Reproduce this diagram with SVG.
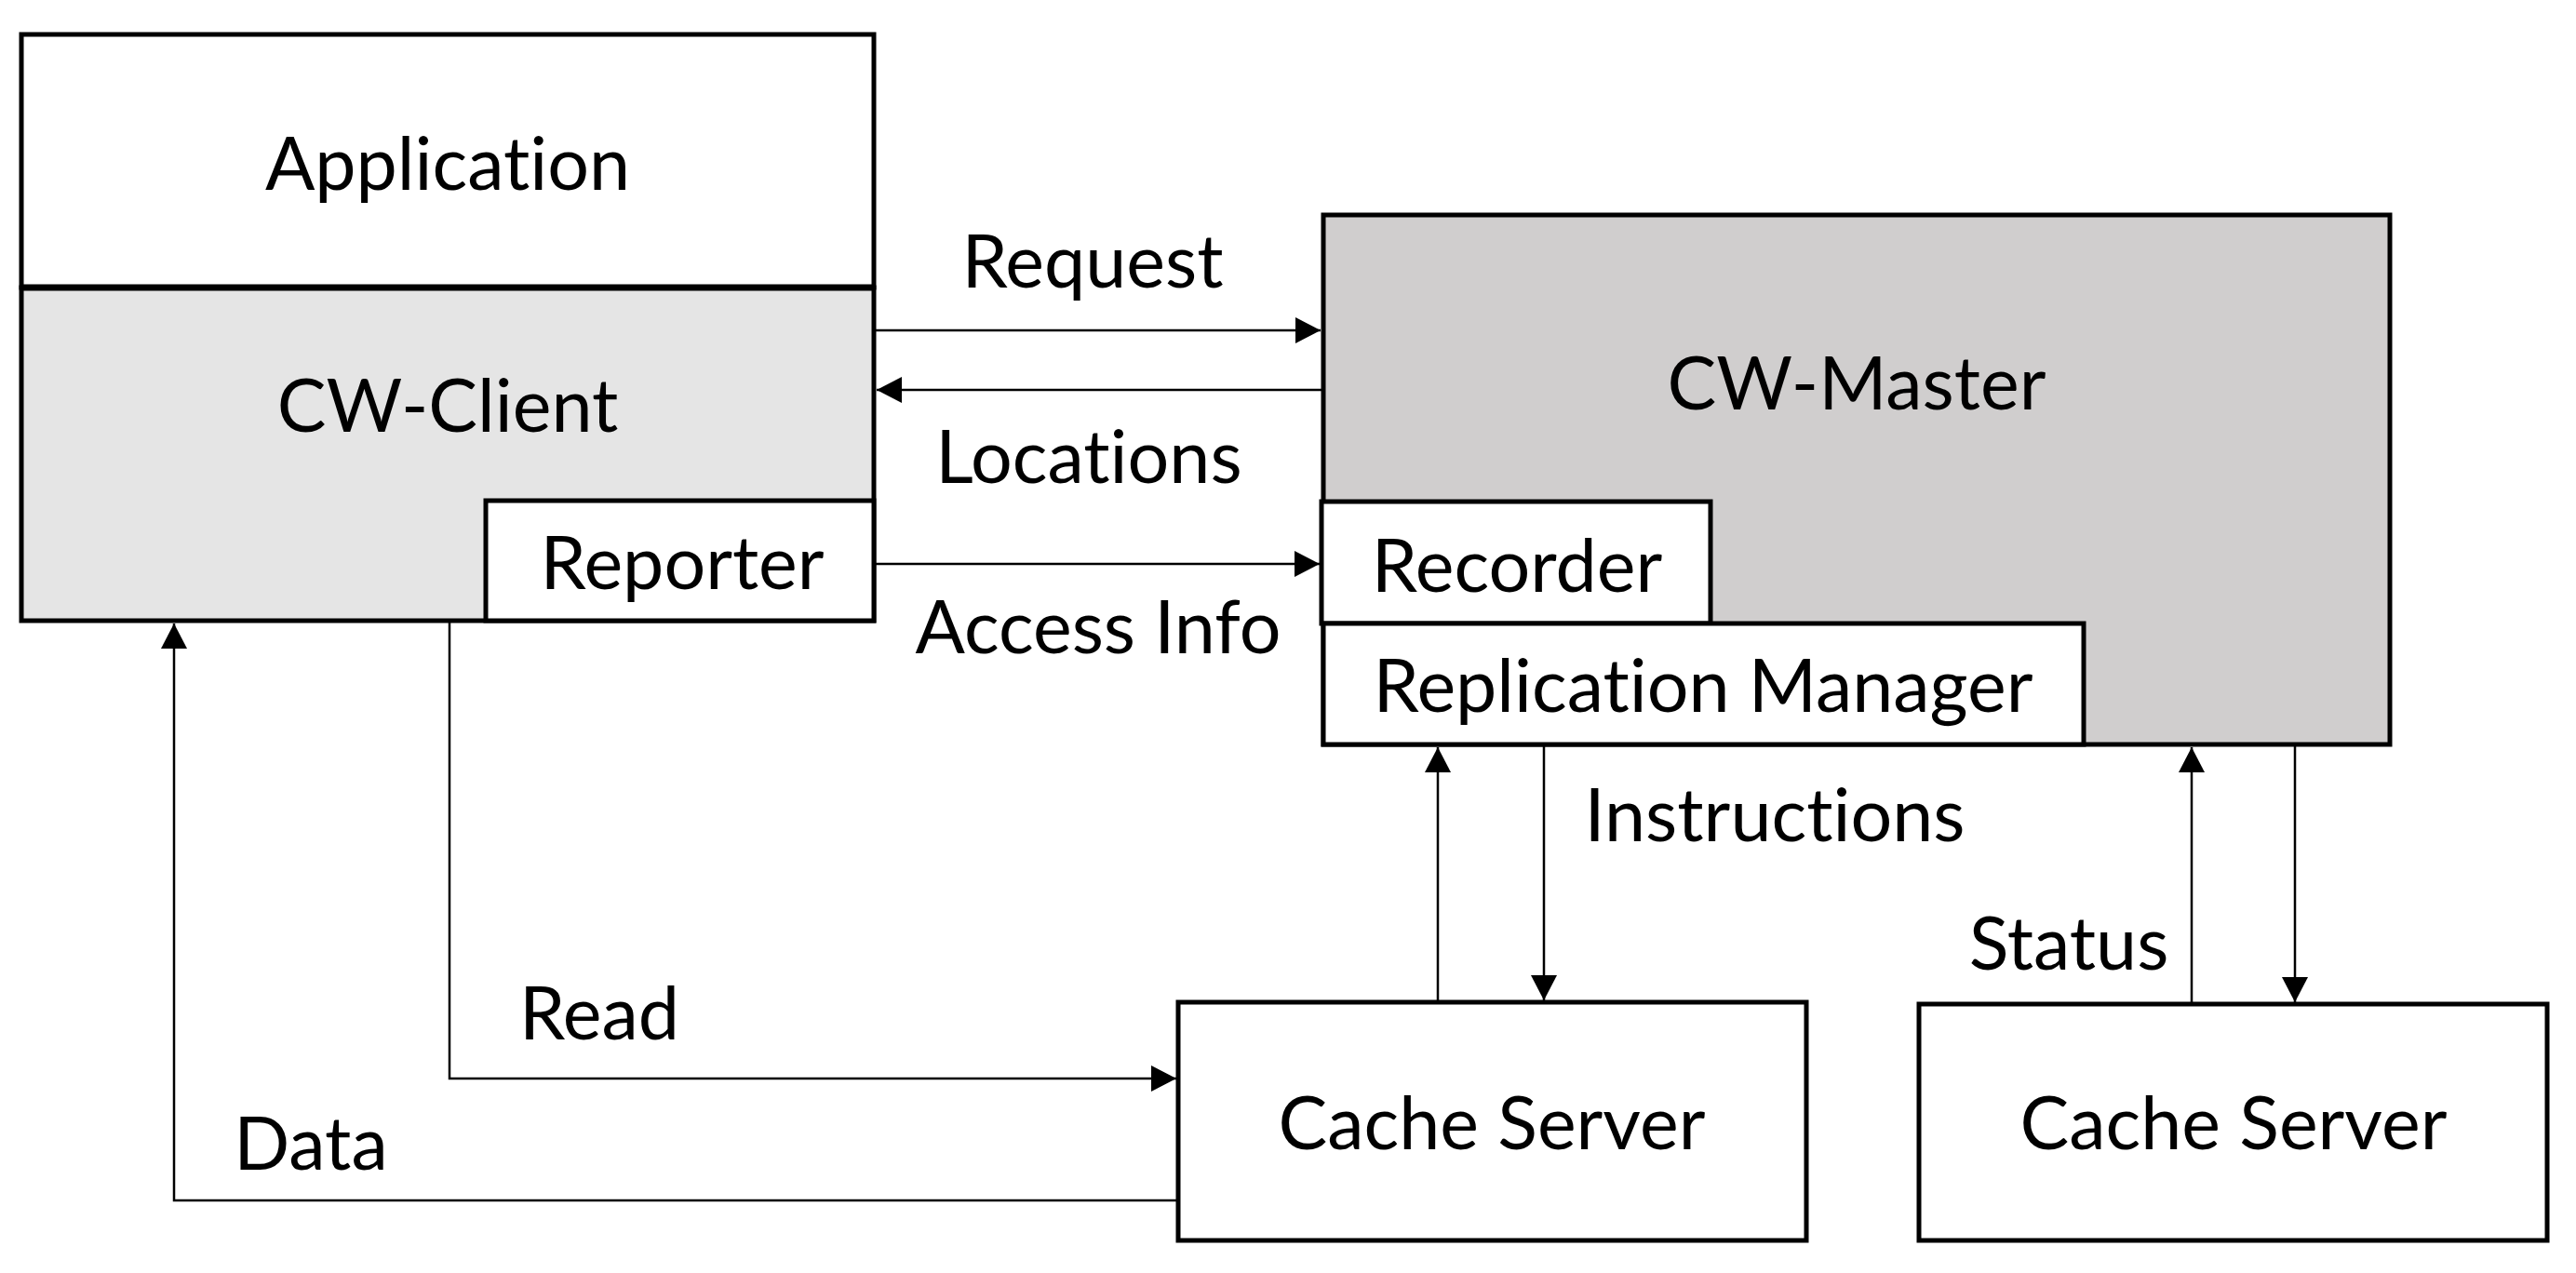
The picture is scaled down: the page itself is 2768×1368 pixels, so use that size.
<svg xmlns="http://www.w3.org/2000/svg" width="2768" height="1368" viewBox="0 0 2768 1368">
<style>
.box{stroke:#000;stroke-width:5}
.lbl{font-family:Lato,"Open Sans","Liberation Sans",sans-serif;font-size:79px;fill:#000;text-anchor:middle;font-variant-ligatures:none;font-feature-settings:"liga" 0,"clig" 0}
.conn{fill:none;stroke:#000;stroke-width:2.5}
</style>
<defs>
<marker id="arr" markerUnits="userSpaceOnUse" markerWidth="28" markerHeight="28" refX="27" refY="14" orient="auto">
<path d="M0,0 L27,14 L0,28 z" fill="#000"/>
</marker>
</defs>
<rect width="2768" height="1368" fill="#fff"/>
<g id="client">
<rect class="box" x="23" y="37" width="916" height="272" fill="#fff"/>
<rect class="box" x="23" y="309" width="916" height="358" fill="#e5e5e5"/>
<line x1="23" y1="309" x2="939" y2="309" stroke="#000" stroke-width="7"/>
<text class="lbl" x="481" y="204">Application</text>
<text class="lbl" x="481" y="464">CW-Client</text>
</g>
<g id="reporter">
<rect class="box" x="522" y="538" width="417" height="129" fill="#fff"/>
<text class="lbl" x="733" y="633">Reporter</text>
</g>
<g id="master">
<rect class="box" x="1422" y="231" width="1146" height="569" fill="#d0cece"/>
<text class="lbl" x="1995" y="440">CW-Master</text>
</g>
<g id="recorder">
<rect class="box" x="1420" y="539" width="418" height="131" fill="#fff"/>
<text class="lbl" x="1630" y="636">Recorder</text>
</g>
<g id="replication">
<rect class="box" x="1422" y="670" width="817" height="130" fill="#fff"/>
<text class="lbl" x="1830" y="765">Replication Manager</text>
</g>
<g id="cache1">
<rect class="box" x="1266" y="1077" width="675" height="256" fill="#fff"/>
<text class="lbl" x="1603" y="1235">Cache Server</text>
</g>
<g id="cache2">
<rect class="box" x="2062" y="1079" width="675" height="254" fill="#fff"/>
<text class="lbl" x="2400" y="1235">Cache Server</text>
</g>
<g id="connectors">
<path class="conn" d="M941,355 H1419" marker-end="url(#arr)"/>
<path class="conn" d="M1420,419 H942" marker-end="url(#arr)"/>
<path class="conn" d="M939,606 H1418" marker-end="url(#arr)"/>
<path class="conn" d="M483,667 V1159 H1264" marker-end="url(#arr)"/>
<path class="conn" d="M1264,1290 H187 V670" marker-end="url(#arr)"/>
<path class="conn" d="M1545,1077 V803" marker-end="url(#arr)"/>
<path class="conn" d="M1659,800 V1075" marker-end="url(#arr)"/>
<path class="conn" d="M2355,1079 V803" marker-end="url(#arr)"/>
<path class="conn" d="M2466,800 V1077" marker-end="url(#arr)"/>
<text class="lbl" x="1174" y="309">Request</text>
<text class="lbl" x="1170" y="519">Locations</text>
<text class="lbl" x="1180" y="702">Access Info</text>
<text class="lbl" x="1907" y="904">Instructions</text>
<text class="lbl" x="2223" y="1042">Status</text>
<text class="lbl" x="644" y="1117">Read</text>
<text class="lbl" x="334" y="1257">Data</text>
</g>
</svg>
